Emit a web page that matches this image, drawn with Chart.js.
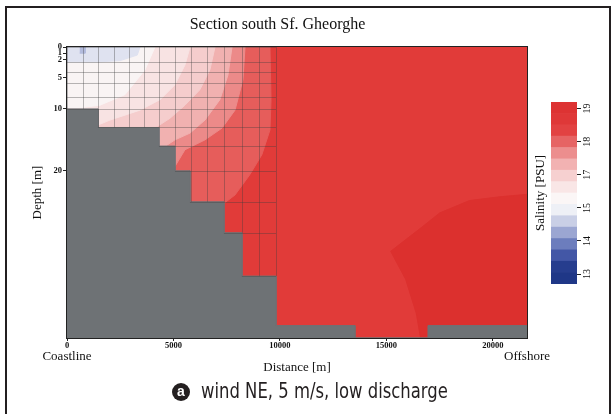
<!DOCTYPE html>
<html>
<head>
<meta charset="utf-8">
<script src="https://cdn.jsdelivr.net/npm/chart.js@4.4.1/dist/chart.umd.min.js"></script>
<style>
  html, body { margin: 0; padding: 0; background: #ffffff; }
  body { width: 612px; height: 414px; position: relative; overflow: hidden; }
  #frame { position: absolute; left: 5px; top: 6px; width: 606px; height: 460px; border: 2.5px solid #231f20; box-sizing: border-box; }
  #section { position: absolute; left: 0; top: 0; }
  #legend { position: absolute; left: 520px; top: 90px; }
  #tag { position: absolute; left: 172px; top: 383px; width: 18px; height: 18px; border-radius: 50%; background: #231f20;
         color: #ffffff; font: bold 14px 'Liberation Sans', sans-serif; line-height: 17px; text-align: center; }
  #captionText { position: absolute; left: 201px; top: 379px; white-space: nowrap;
                 font-family: 'DejaVu Sans Condensed', 'Liberation Sans', sans-serif; font-size: 21px; line-height: 24px;
                 color: #231f20; transform-origin: 0 50%; transform: scaleX(0.87); }
</style>
</head>
<body>
<div id="frame"></div>
<canvas id="section" width="612" height="414"></canvas>
<canvas id="legend" width="88" height="210"></canvas>
<div id="tag">a</div>
<div id="captionText">wind NE, 5 m/s, low discharge</div>
<script>
// ---- axes -------------------------------------------------------------
const distanceTicks = [0, 5000, 10000, 15000, 20000];
const depthTicks = [0, 1, 2, 5, 10, 20];
const endLabels = ['Coastline', 'Offshore'];
const maxDistance = 21600;
const maxDepth = 47;

// ---- bottom topography: depth of the sea floor from each distance on ----
const bedDist  = [0, 1455, 4319, 5070, 5775, 7371, 8216, 9813, 13520, 16950, 21600];
const bedDepth = [10, 13, 16, 20, 25, 30, 37, 45, 47, 45];

// ---- model cell edges in the nearshore part ----
const cellEdgesX = [0, 737, 1470, 2193, 2911, 3615, 4319, 5070, 5808, 6559, 7371, 8216, 9014, 9813];
const cellEdgesZ = [0, 2.4, 4, 5.8, 8, 10, 13, 16, 20, 25, 30, 37, 45];

// ---- salinity contours (distance [m] along each isohaline, by depth [m]) ----
const iso19Dist   = [21600, 20300, 18900, 17500, 16700, 15200, 15900, 16400, 16600];
const iso19Depth  = [23.8, 24.2, 24.8, 26.8, 29, 33, 37.5, 43, 47];
const iso185Dist  = [9530, 9580, 9530, 9150, 8590, 7890, 7280, 6950, 6710];
const iso185Depth = [0, 8.5, 13.4, 17.4, 20.6, 23.9, 25.5, 31, 47];
const iso18Dist   = [8360, 8260, 7890, 7280, 6480, 5540, 4840, 4370];
const iso18Depth  = [0, 5.3, 10.2, 13.1, 15, 16.6, 20.6, 47];
const iso175Dist  = [7750, 7560, 7180, 6480, 5780, 5070, 4370, 3900];
const iso175Depth = [0, 4.5, 8.5, 11.8, 13.9, 15, 16.6, 47];
const iso17Dist   = [6950, 6710, 6240, 5540, 4840, 4130, 3430, 2490];
const iso17Depth  = [0, 3.7, 6.9, 9.4, 11.5, 13.1, 14.2, 47];
const iso165Dist  = [5780, 5540, 5070, 4370, 3430, 2020, 1460, 1080];
const iso165Depth = [0, 2.9, 6.1, 8.5, 10.2, 11.8, 12.6, 47];
const iso16Dist   = [4130, 3660, 2720, 1550, 610, 0];
const iso16Depth  = [0, 3.7, 7.7, 9.4, 9.8, 9.8];
const iso15Dist   = [3430, 3300, 2500, 1500, 0];
const iso15Depth  = [0, 1.3, 2.2, 2.4, 2.4];
const freshCellDist  = [600, 850];
const freshCellDepth = [0, 1];

// ---- colour key ----
const keyTickPos    = [0, 1, 2, 3, 4, 5];
const keyTickLabels = ['13', '14', '15', '17', '18', '19'];
const keyEdges  = [-0.3, 0.044, 0.388, 0.731, 1.075, 1.419, 1.763, 2.106, 2.45, 2.794, 3.138, 3.481, 3.825, 4.169, 4.513, 4.856, 5.2];
const keyColors = ['#1f3787', '#263d8e', '#4357a6', '#6c7dbd', '#9ba6d2', '#c9cfe6', '#eef0f6', '#fbf6f6',
                   '#f9e6e6', '#f6d0d0', '#f2b2b2', '#ec8e8e', '#e66464', '#e24242', '#df3838', '#dd3333'];

const serif = "'Liberation Serif', 'Times New Roman', serif";
const ink = '#111111';

// ---- build the filled regions ----
function pts(dist, depth) { return dist.map((d, i) => ({ x: d, y: depth[i] })); }
function fromCoast(dist, depth) {
  return [{ x: 0, y: depth[0] }, ...pts(dist, depth), { x: 0, y: depth[depth.length - 1] }];
}
function bedShape() {
  const out = [];
  for (let i = 0; i < bedDepth.length; i++) {
    out.push({ x: bedDist[i], y: bedDepth[i] }, { x: bedDist[i + 1], y: bedDepth[i] });
  }
  out.push({ x: maxDistance, y: maxDepth }, { x: 0, y: maxDepth });
  return out;
}
function box(dist, depth) {
  return [{ x: dist[0], y: depth[0] }, { x: dist[1], y: depth[0] }, { x: dist[1], y: depth[1] }, { x: dist[0], y: depth[1] }];
}

const layers = [
  { label: 'section', data: box([0, maxDistance], [0, maxDepth]), color: '#e13b39' },
  { label: '> 19', data: [...pts(iso19Dist, iso19Depth), { x: maxDistance, y: maxDepth }], color: '#dc302e' },
  { label: '< 18.5', data: fromCoast(iso185Dist, iso185Depth), color: '#e65d5b' },
  { label: '< 18', data: fromCoast(iso18Dist, iso18Depth), color: '#ec8a89' },
  { label: '< 17.5', data: fromCoast(iso175Dist, iso175Depth), color: '#f1b1b0' },
  { label: '< 17', data: fromCoast(iso17Dist, iso17Depth), color: '#f5cdcd' },
  { label: '< 16.5', data: fromCoast(iso165Dist, iso165Depth), color: '#f8e3e3' },
  { label: '< 16', data: fromCoast(iso16Dist, iso16Depth), color: '#f9f4f4' },
  { label: '< 15', data: fromCoast(iso15Dist, iso15Depth), color: '#dfe2f0' },
  { label: '< 14.5', data: box(freshCellDist, freshCellDepth), color: '#b3bbdd' },
  { label: 'bottom', data: bedShape(), color: '#6e7275' }
];

const datasets = layers.map((l, i) => ({
  label: l.label,
  data: l.data,
  backgroundColor: l.color,
  borderColor: l.color,
  borderWidth: 1,
  fill: 'shape',
  pointRadius: 0,
  pointHoverRadius: 0,
  tension: 0,
  order: layers.length - i
}));

function bedAt(d) {
  for (let i = 0; i < bedDepth.length; i++) {
    if (d >= bedDist[i] && d < bedDist[i + 1]) return bedDepth[i];
  }
  return bedDepth[bedDepth.length - 1];
}

// grid of model cells, outline of the panel and the coast / offshore marks
const sectionExtras = {
  id: 'sectionExtras',
  afterDatasetsDraw(chart) {
    const { ctx, scales: { x, y } } = chart;
    const gridEnd = cellEdgesX[cellEdgesX.length - 1];
    ctx.save();
    ctx.strokeStyle = 'rgba(60,60,60,0.36)';
    ctx.lineWidth = 1;
    ctx.beginPath();
    cellEdgesX.forEach(d => {
      const bottom = d === 0 ? bedAt(1) : Math.min(bedAt(d - 1), bedAt(d + 1));
      const px = Math.round(x.getPixelForValue(d)) + 0.5;
      ctx.moveTo(px, y.getPixelForValue(0));
      ctx.lineTo(px, y.getPixelForValue(bottom));
    });
    cellEdgesZ.forEach(z => {
      const i = bedDepth.findIndex(b => b >= z);
      if (i < 0) return;
      const start = bedDist[i];
      if (start >= gridEnd) return;
      const py = Math.round(y.getPixelForValue(z)) + 0.5;
      ctx.moveTo(x.getPixelForValue(start), py);
      ctx.lineTo(x.getPixelForValue(gridEnd), py);
    });
    ctx.stroke();
    ctx.restore();
  },
  afterDraw(chart) {
    const { ctx, chartArea: a, scales: { x } } = chart;
    ctx.save();
    ctx.strokeStyle = '#222222';
    ctx.lineWidth = 1;
    ctx.strokeRect(Math.round(a.left) - 0.5, Math.round(a.top) - 0.5, Math.round(a.right - a.left) + 1, Math.round(a.bottom - a.top) + 1);
    ctx.fillStyle = ink;
    ctx.font = '13px ' + serif;
    ctx.textAlign = 'center';
    ctx.textBaseline = 'middle';
    ctx.fillText(endLabels[0], x.getPixelForValue(0), x.top + 19);
    ctx.fillText(endLabels[1], x.getPixelForValue(maxDistance), x.top + 19);
    ctx.restore();
  }
};

new Chart(document.getElementById('section'), {
  type: 'line',
  data: { datasets },
  options: {
    responsive: false,
    animation: false,
    events: [],
    layout: { padding: { left: 28, right: 85, top: 0, bottom: 35 } },
    plugins: {
      legend: { display: false },
      tooltip: { enabled: false },
      title: {
        display: true,
        text: 'Section south Sf. Gheorghe',
        color: ink,
        font: { family: serif, size: 16, weight: 'normal' },
        padding: { top: 15.4, bottom: 12.4 }
      }
    },
    scales: {
      x: {
        type: 'linear', min: 0, max: maxDistance,
        afterBuildTicks: s => { s.ticks = distanceTicks.map(v => ({ value: v })); },
        afterFit: s => { s.height = 41; },
        ticks: { color: ink, font: { family: serif, size: 8.5, weight: 'bold' }, padding: 0, maxRotation: 0, autoSkip: false, callback: v => String(v) },
        grid: { drawOnChartArea: false, tickLength: 3, color: '#222222' },
        border: { display: false },
        title: { display: true, text: 'Distance [m]', color: ink, font: { family: serif, size: 13 }, padding: { top: 0, bottom: 4 } }
      },
      y: {
        type: 'linear', reverse: true, min: 0, max: maxDepth,
        afterBuildTicks: s => { s.ticks = depthTicks.map(v => ({ value: v })); },
        afterFit: s => { s.width = 39; },
        ticks: { color: ink, font: { family: serif, size: 8.5, weight: 'bold' }, padding: 1, autoSkip: false, callback: v => String(v) },
        grid: { drawOnChartArea: false, tickLength: 4, color: '#222222' },
        border: { display: false },
        title: { display: true, text: 'Depth [m]', color: ink, font: { family: serif, size: 13 }, padding: { top: 2, bottom: 0 } }
      }
    }
  },
  plugins: [sectionExtras]
});

// ---- colour key ----
const keyMin = keyEdges[0];
const keyMax = keyEdges[keyEdges.length - 1];
const keyLabels = {
  id: 'keyLabels',
  afterDraw(chart) {
    const { ctx, chartArea: a, scales: { y } } = chart;
    ctx.save();
    ctx.fillStyle = ink;
    ctx.font = '10px ' + serif;
    ctx.textAlign = 'center';
    ctx.textBaseline = 'middle';
    keyTickPos.forEach((p, i) => {
      ctx.save();
      ctx.translate(a.right + 10, y.getPixelForValue(p));
      ctx.rotate(-Math.PI / 2);
      ctx.fillText(keyTickLabels[i], 0, 0);
      ctx.restore();
    });
    ctx.restore();
  }
};

new Chart(document.getElementById('legend'), {
  type: 'bar',
  data: {
    labels: ['salinity'],
    datasets: keyColors.map((c, i) => ({
      data: [[keyEdges[i], keyEdges[i + 1]]],
      backgroundColor: c,
      borderWidth: 0,
      barPercentage: 1,
      categoryPercentage: 1,
      grouped: false,
      yAxisID: 'y'
    }))
  },
  options: {
    responsive: false,
    animation: false,
    events: [],
    layout: { padding: { left: 9, right: 0, top: 12, bottom: 16 } },
    plugins: { legend: { display: false }, tooltip: { enabled: false } },
    scales: {
      x: { display: false },
      y: {
        type: 'linear', position: 'right', min: keyMin, max: keyMax,
        afterBuildTicks: s => { s.ticks = keyTickPos.map(v => ({ value: v })); },
        afterFit: s => { s.width = 31; },
        ticks: { display: false },
        grid: { drawOnChartArea: false, tickLength: 4, color: '#222222' },
        border: { display: false }
      },
      yKey: {
        type: 'linear', axis: 'y', position: 'left', min: keyMin, max: keyMax,
        afterFit: s => { s.width = 22; },
        ticks: { display: false },
        grid: { display: false },
        border: { display: false },
        title: { display: true, text: 'Salinity [PSU]', color: ink, font: { family: serif, size: 13 }, padding: { top: 4, bottom: 0 } }
      }
    }
  },
  plugins: [keyLabels]
});
</script>
</body>
</html>
